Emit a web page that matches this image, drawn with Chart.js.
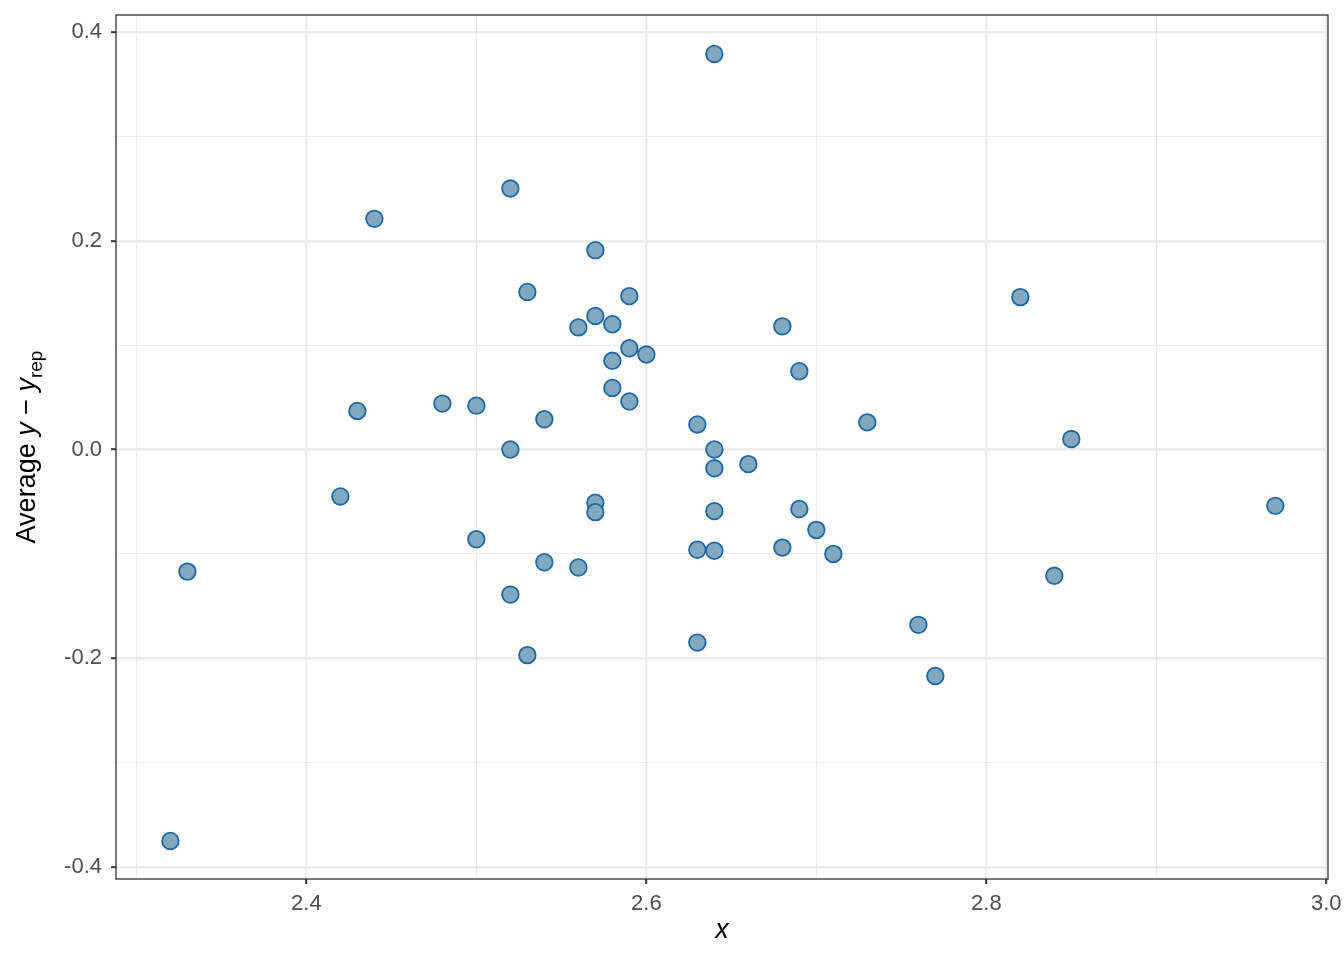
<!DOCTYPE html>
<html>
<head>
<meta charset="utf-8">
<script src="https://cdn.jsdelivr.net/npm/chart.js@4.4.1/dist/chart.umd.min.js"></script>
<style>
  html, body { margin: 0; padding: 0; background: #fff; }
  #wrap { width: 1344px; height: 960px; }
</style>
</head>
<body>
<div id="wrap"><canvas id="myChart" width="1344" height="960"></canvas></div>
<script>

// data
const xValues = [2.64, 2.52, 2.44, 2.57, 2.53, 2.59, 2.82, 2.56, 2.57, 2.58,
  2.68, 2.59, 2.60, 2.58, 2.69, 2.58, 2.59, 2.48, 2.50, 2.43,
  2.54, 2.63, 2.73, 2.85, 2.52, 2.64, 2.64, 2.66, 2.42, 2.57,
  2.57, 2.64, 2.69, 2.97, 2.70, 2.50, 2.63, 2.64, 2.68, 2.71,
  2.54, 2.56, 2.33, 2.84, 2.52, 2.76, 2.53, 2.63, 2.77, 2.32];
const yValues = [0.379, 0.250, 0.221, 0.191, 0.151, 0.147, 0.146, 0.117, 0.128, 0.120,
  0.118, 0.097, 0.091, 0.085, 0.075, 0.059, 0.046, 0.044, 0.042, 0.037,
  0.029, 0.024, 0.026, 0.010, 0.000, 0.000, -0.018, -0.014, -0.045, -0.051,
  -0.060, -0.059, -0.057, -0.054, -0.077, -0.086, -0.096, -0.097, -0.094, -0.100,
  -0.108, -0.113, -0.117, -0.121, -0.139, -0.168, -0.197, -0.185, -0.217, -0.375];

const xTicks = [2.3, 2.4, 2.5, 2.6, 2.7, 2.8, 2.9, 3.0];
const yTicks = [-0.4, -0.3, -0.2, -0.1, 0.0, 0.1, 0.2, 0.3, 0.4];

const points = xValues.map((x, i) => ({ x: x, y: yValues[i] }));

function isMajor(v) {
  return Math.abs(Math.round(v * 10)) % 2 === 0;
}

const gridOpts = {
  color: (c) => '#ebebeb',
  lineWidth: (c) => c.tick && isMajor(c.tick.value) ? 2.4 : 1.1,
  tickColor: (c) => c.tick && isMajor(c.tick.value) ? '#333333' : 'rgba(0,0,0,0)',
  tickWidth: 2,
  tickLength: 5,
  drawTicks: true
};

// panel box + axis titles
const decor = {
  id: 'decor',
  afterDraw(chart) {
    const ctx = chart.ctx;
    const a = chart.chartArea;
    ctx.save();
    ctx.strokeStyle = '#333333';
    ctx.lineWidth = 1.3;
    ctx.strokeRect(a.left, a.top, a.right - a.left, a.bottom - a.top);

    // x title
    ctx.fillStyle = '#000';
    ctx.font = 'italic 27px "Liberation Sans", Arial, sans-serif';
    ctx.textAlign = 'center';
    ctx.textBaseline = 'middle';
    ctx.fillText('x', (a.left + a.right) / 2, 930);

    // y title: Average y − y_rep
    const parts = [
      { t: 'Average ', f: '27px "Liberation Sans", Arial, sans-serif', dy: 0 },
      { t: 'y', f: 'italic 27px "Liberation Sans", Arial, sans-serif', dy: 0 },
      { t: ' \u2212 ', f: '27px "Liberation Sans", Arial, sans-serif', dy: 0 },
      { t: 'y', f: 'italic 27px "Liberation Sans", Arial, sans-serif', dy: 0 },
      { t: 'rep', f: '19px "Liberation Sans", Arial, sans-serif', dy: 7 }
    ];
    let total = 0;
    parts.forEach(p => { ctx.font = p.f; p.w = ctx.measureText(p.t).width; total += p.w; });
    ctx.translate(35, (a.top + a.bottom) / 2);
    ctx.rotate(-Math.PI / 2);
    ctx.textAlign = 'left';
    ctx.textBaseline = 'alphabetic';
    let px = -total / 2;
    parts.forEach(p => {
      ctx.font = p.f;
      ctx.fillText(p.t, px, p.dy);
      px += p.w;
    });
    ctx.restore();
  }
};

new Chart(document.getElementById('myChart'), {
  type: 'scatter',
  data: {
    datasets: [{
      data: points,
      pointRadius: 8.3,
      pointHoverRadius: 8.3,
      pointBackgroundColor: '#80a9c1',
      pointBorderColor: '#2166a0',
      pointBorderWidth: 1.8
    }]
  },
  options: {
    responsive: false,
    animation: false,
    events: [],
    layout: { padding: { left: 0, top: 15, right: 16, bottom: 0 } },
    plugins: {
      legend: { display: false },
      tooltip: { enabled: false }
    },
    scales: {
      x: {
        type: 'linear',
        min: 2.288,
        max: 3.001,
        afterBuildTicks: (s) => { s.ticks = xTicks.map(v => ({ value: v })); },
        afterFit: (s) => { s.height = 81; s.paddingLeft = 0; s.paddingRight = 0; },
        border: { display: false },
        grid: gridOpts,
        ticks: {
          padding: 7,
          color: '#4d4d4d',
          font: { family: '"Liberation Sans", Arial, sans-serif', size: 22 },
          maxRotation: 0,
          callback: (v) => isMajor(v) ? v.toFixed(1) : ''
        }
      },
      y: {
        type: 'linear',
        min: -0.4115,
        max: 0.4163,
        afterBuildTicks: (s) => { s.ticks = yTicks.map(v => ({ value: v })); },
        afterFit: (s) => { s.width = 116; s.paddingTop = 0; s.paddingBottom = 0; },
        border: { display: false },
        grid: gridOpts,
        ticks: {
          padding: 9,
          color: '#4d4d4d',
          font: { family: '"Liberation Sans", Arial, sans-serif', size: 22 },
          callback: (v) => isMajor(v) ? v.toFixed(1) : ''
        }
      }
    }
  },
  plugins: [decor]
});

</script>
</body>
</html>
